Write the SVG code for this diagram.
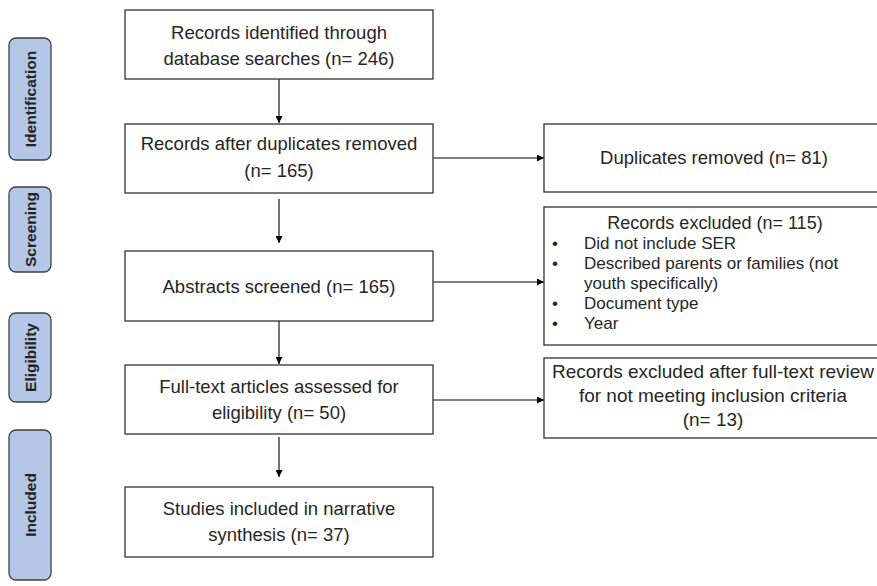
<svg xmlns="http://www.w3.org/2000/svg" width="877" height="586" viewBox="0 0 877 586">
<defs>
<marker id="ah" viewBox="0 0 10 10" refX="10" refY="5" markerWidth="7" markerHeight="7" markerUnits="userSpaceOnUse" orient="auto">
<path d="M0,0 L10,5 L0,10 z" fill="#000"/>
</marker>
</defs>
<style>
.box{fill:#fff;stroke:#333;stroke-width:1.3}
.tab{fill:#b4c7e7;stroke:#404040;stroke-width:1.3}
.t{font-family:"Liberation Sans",Arial,sans-serif;font-size:18.5px;fill:#262626;text-anchor:middle}
.s{font-family:"Liberation Sans",Arial,sans-serif;font-size:17px;fill:#262626}
.lab{font-family:"Liberation Sans",Arial,sans-serif;font-size:15.5px;font-weight:bold;fill:#222;text-anchor:middle}
.c{stroke:#000;stroke-width:1.1;fill:none;marker-end:url(#ah)}
</style>
<rect width="877" height="586" fill="#fff"/>

<g id="tab-identification">
<rect class="tab" x="9" y="38" width="42" height="122" rx="7"/>
<text class="lab" transform="translate(35.5,99) rotate(-90)">Identification</text>
</g>
<g id="tab-screening">
<rect class="tab" x="9" y="187" width="42" height="85" rx="7"/>
<text class="lab" transform="translate(35.5,229.5) rotate(-90)">Screening</text>
</g>
<g id="tab-eligibility">
<rect class="tab" x="9" y="313" width="42" height="89" rx="7"/>
<text class="lab" transform="translate(35.5,357.5) rotate(-90)">Eligibility</text>
</g>
<g id="tab-included">
<rect class="tab" x="9" y="430" width="42" height="150" rx="7"/>
<text class="lab" transform="translate(35.5,505) rotate(-90)">Included</text>
</g>

<g id="connectors">
<line class="c" x1="279" y1="79" x2="279" y2="123"/>
<line class="c" x1="279" y1="199" x2="279" y2="243"/>
<line class="c" x1="279" y1="321" x2="279" y2="364"/>
<line class="c" x1="279" y1="437" x2="279" y2="477"/>
<line class="c" x1="433" y1="158" x2="544" y2="158"/>
<line class="c" x1="433" y1="282" x2="544" y2="282"/>
<line class="c" x1="433" y1="400" x2="544" y2="400"/>
</g>

<g id="n-identified">
<rect class="box" x="125" y="10" width="308" height="69"/>
<text class="t" x="279" y="39">Records identified through</text>
<text class="t" x="279" y="65">database searches (n= 246)</text>
</g>
<g id="n-after-dup">
<rect class="box" x="125" y="124" width="308" height="69"/>
<text class="t" x="279" y="150">Records after duplicates removed</text>
<text class="t" x="279" y="177">(n= 165)</text>
</g>
<g id="n-abstracts">
<rect class="box" x="125" y="251" width="308" height="70"/>
<text class="t" x="279" y="293">Abstracts screened (n= 165)</text>
</g>
<g id="n-fulltext">
<rect class="box" x="125" y="365" width="308" height="69"/>
<text class="t" x="279" y="393">Full-text articles assessed for</text>
<text class="t" x="279" y="419">eligibility (n= 50)</text>
</g>
<g id="n-included">
<rect class="box" x="125" y="487" width="308" height="70"/>
<text class="t" x="279" y="515">Studies included in narrative</text>
<text class="t" x="279" y="541">synthesis (n= 37)</text>
</g>

<g id="n-duplicates">
<rect class="box" x="544" y="124" width="340" height="68"/>
<text class="t" x="714" y="164">Duplicates removed (n= 81)</text>
</g>
<g id="n-excluded">
<rect class="box" x="544" y="207" width="340" height="138"/>
<text class="t" x="715" y="229" style="font-size:18px">Records excluded (n= 115)</text>
<text class="s" x="552" y="249">•</text><text class="s" x="584" y="249">Did not include SER</text>
<text class="s" x="552" y="269">•</text><text class="s" x="584" y="269">Described parents or families (not</text>
<text class="s" x="584" y="289">youth specifically)</text>
<text class="s" x="552" y="309">•</text><text class="s" x="584" y="309">Document type</text>
<text class="s" x="552" y="329">•</text><text class="s" x="584" y="329">Year</text>
</g>
<g id="n-ft-excluded">
<rect class="box" x="544" y="358" width="340" height="80"/>
<text class="t" x="713" y="378" style="font-size:19px">Records excluded after full-text review</text>
<text class="t" x="713" y="402" style="font-size:19px">for not meeting inclusion criteria</text>
<text class="t" x="713" y="426" style="font-size:19px">(n= 13)</text>
</g>
</svg>
